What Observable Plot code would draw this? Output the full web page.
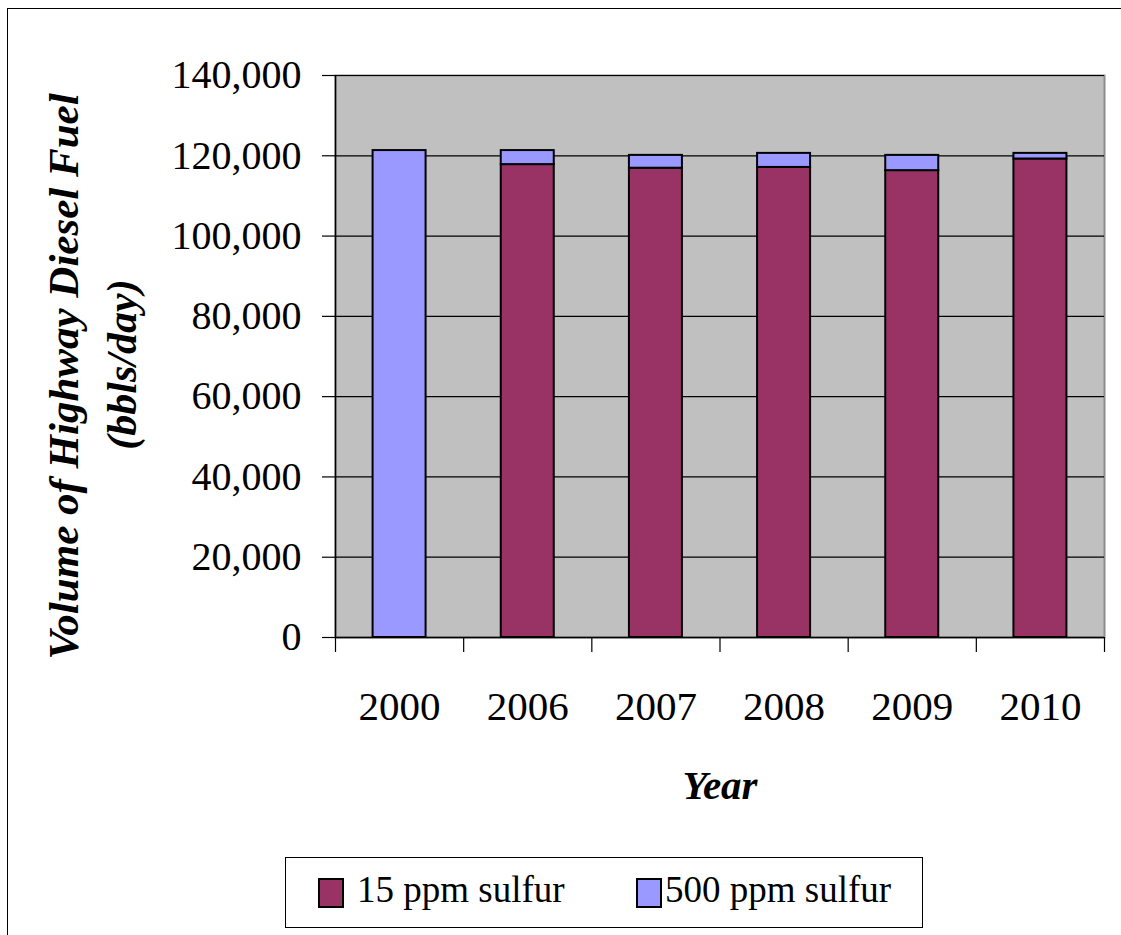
<!DOCTYPE html>
<html>
<head>
<meta charset="utf-8">
<script src="https://cdn.jsdelivr.net/npm/d3@7"></script>
<script src="https://cdn.jsdelivr.net/npm/@observablehq/plot@0.6"></script>
<style>
  html, body { margin: 0; padding: 0; background: #fff; overflow: hidden; width: 1121px; height: 935px; }
  #wrap { position: relative; width: 1121px; height: 935px; font-family: "Liberation Serif", "Times New Roman", serif; }
  #outer { position: absolute; left: 7px; top: 8px; width: 1200px; height: 1000px; border-left: 1.5px solid #000; border-top: 1.5px solid #000; }
  #chart { position: absolute; left: 0; top: 0; }
  #legend { position: absolute; left: 285px; top: 857px; width: 636px; height: 69px; border: 1.5px solid #000; background: #fff; }
  .sw { position: absolute; width: 22px; height: 26px; border: 2px solid #000; top: 20px; }
  .lt { position: absolute; top: 10px; font-size: 37px; line-height: 44px; color: #000; white-space: nowrap; }
</style>
</head>
<body>
<div id="wrap">
  <div id="outer"></div>
  <div id="chart"></div>
  <div id="legend"></div>
</div>
<script>
const years = ["2000", "2006", "2007", "2008", "2009", "2010"];
const ppm15 = [0, 117800, 116900, 117100, 116300, 119200];
const ppm500 = [121300, 3500, 3200, 3500, 3800, 1400];
const seriesNames = ["15 ppm sulfur", "500 ppm sulfur"];
const seriesColors = ["#993366", "#9999FF"];
const yTicks = [0, 20000, 40000, 60000, 80000, 100000, 120000, 140000];

const rows = [];
years.forEach((yr, i) => {
  rows.push({i, year: yr, series: seriesNames[0], y1: 0, y2: ppm15[i]});
  rows.push({i, year: yr, series: seriesNames[1], y1: ppm15[i], y2: ppm15[i] + ppm500[i]});
});
const barRows = rows.filter(d => d.y2 > d.y1);

const W = 1121, H = 935;
const mL = 335, mR = 17, mT = 75, mB = 298;
const step = (W - mL - mR) / years.length;
const inset = (step - 53) / 2;
const font = "Liberation Serif";

const chart = Plot.plot({
  width: W,
  height: H,
  marginLeft: mL,
  marginRight: mR,
  marginTop: mT,
  marginBottom: mB,
  style: {fontFamily: font, background: "transparent", overflow: "visible"},
  x: {type: "linear", domain: [0, years.length], axis: null},
  y: {domain: [0, 140000], axis: null},
  color: {domain: seriesNames, range: seriesColors},
  marks: [
    Plot.frame({fill: "#C0C0C0", stroke: "#8c8c8c", strokeWidth: 2}),
    Plot.ruleY(yTicks, {stroke: "#000", strokeWidth: 1.2}),
    Plot.rectY(barRows, {
      x1: d => d.i, x2: d => d.i + 1, y1: "y1", y2: "y2",
      fill: "series", stroke: "#000", strokeWidth: 2,
      insetLeft: inset, insetRight: inset
    }),
    // y axis
    Plot.ruleX([0], {stroke: "#000", strokeWidth: 1.5}),
    Plot.axisY({
      ticks: yTicks, tickSize: 13, tickPadding: 21,
      tickFormat: d3.format(","), fontSize: 40, label: null,
      stroke: "#000", strokeWidth: 1.2, color: "#000"
    }),
    // x axis baseline and boundary ticks
    Plot.ruleY([0], {stroke: "#000", strokeWidth: 1.5, x1: 0, x2: years.length}),
    Plot.axisX({
      ticks: d3.range(years.length + 1), tickSize: 15,
      tickFormat: () => "", label: null, stroke: "#000", strokeWidth: 1.2
    }),
    Plot.axisX({
      ticks: years.map((_, i) => i + 0.5), tickSize: 0, tickPadding: 53,
      tickFormat: v => years[Math.floor(v)], fontSize: 41, label: null, color: "#000"
    }),
    // axis titles
    Plot.text(["Year"], {
      frameAnchor: "bottom", dy: 148, fontSize: 41, fontWeight: "bold",
      fontStyle: "italic", fill: "#000", lineAnchor: "middle"
    }),
    Plot.text(["Volume of Highway Diesel Fuel"], {
      frameAnchor: "left", dx: -271, dy: 20, rotate: -90, fontSize: 43,
      fontWeight: "bold", fontStyle: "italic", fill: "#000",
      textAnchor: "middle", lineAnchor: "middle"
    }),
    Plot.text(["(bbls/day)"], {
      frameAnchor: "left", dx: -213, dy: 8, rotate: -90, fontSize: 42,
      fontWeight: "bold", fontStyle: "italic", fill: "#000",
      textAnchor: "middle", lineAnchor: "middle"
    })
  ]
});
document.getElementById("chart").appendChild(chart);

// legend
const legend = document.getElementById("legend");
const swLeft = [32, 350];
const txtLeft = [71, 379];
seriesNames.forEach((name, k) => {
  const sw = document.createElement("div");
  sw.className = "sw";
  sw.style.left = swLeft[k] + "px";
  sw.style.background = seriesColors[k];
  legend.appendChild(sw);
  const t = document.createElement("div");
  t.className = "lt";
  t.style.left = txtLeft[k] + "px";
  t.textContent = name;
  legend.appendChild(t);
});
</script>
</body>
</html>
